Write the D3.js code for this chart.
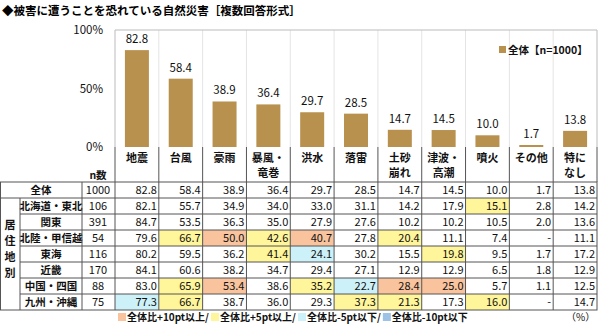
<!DOCTYPE html>
<html>
<head>
<meta charset="utf-8">
<script src="https://cdn.jsdelivr.net/npm/d3@7"></script>
<style>
  body { margin: 0; background: #fff; }
  svg { display: block; font-family: "Noto Sans CJK JP", sans-serif; }
</style>
</head>
<body>
<div id="container"></div>
<script>
// categories and overall values
const categories = ["地震", "台風", "豪雨", "暴風・竜巻", "洪水", "落雷", "土砂崩れ", "津波・高潮", "噴火", "その他", "特になし"];
const categoryLines = [["地震"], ["台風"], ["豪雨"], ["暴風・", "竜巻"], ["洪水"], ["落雷"], ["土砂", "崩れ"], ["津波・", "高潮"], ["噴火"], ["その他"], ["特に", "なし"]];
const totalN = 1000;
const totalValues = [82.8, 58.4, 38.9, 36.4, 29.7, 28.5, 14.7, 14.5, 10.0, 1.7, 13.8];

// breakdown by region (null = "-")
const regions = ["北海道・東北", "関東", "北陸・甲信越", "東海", "近畿", "中国・四国", "九州・沖縄"];
const regionN = [106, 391, 54, 116, 170, 88, 75];
const regionValues = [
  [82.1, 55.7, 34.9, 34.0, 33.0, 31.1, 14.2, 17.9, 15.1, 2.8, 14.2],
  [84.7, 53.5, 36.3, 35.0, 27.9, 27.6, 10.2, 10.2, 10.5, 2.0, 13.6],
  [79.6, 66.7, 50.0, 42.6, 40.7, 27.8, 20.4, 11.1, 7.4, null, 11.1],
  [80.2, 59.5, 36.2, 41.4, 24.1, 30.2, 15.5, 19.8, 9.5, 1.7, 17.2],
  [84.1, 60.6, 38.2, 34.7, 29.4, 27.1, 12.9, 12.9, 6.5, 1.8, 12.9],
  [83.0, 65.9, 53.4, 38.6, 35.2, 22.7, 28.4, 25.0, 5.7, 1.1, 12.5],
  [77.3, 66.7, 38.7, 36.0, 29.3, 37.3, 21.3, 17.3, 16.0, null, 14.7]
];
const yTicks = [0, 50, 100];
const legendItems = ["全体比+10pt以上/", "全体比+5pt以上/", "全体比-5pt以下/", "全体比-10pt以下"];
const legendColors = ["#f8c39d", "#fff59a", "#cdf1f9", "#9cc3e5"];

const w = 600, h = 325;
const left = 115, right = 597;
const plotTop = 30, plotBottom = 147;
const tableTop = 182, rowH = 16;
const lineColor = "#555";
const barColor = "#b8914f";

const svg = d3.select("#container").append("svg")
  .attr("width", w)
  .attr("height", h);

const x = d3.scaleBand().domain(categories).range([left, right]).padding(0);
const y = d3.scaleLinear().domain([0, 100]).range([plotBottom, plotTop]);

// title
svg.append("text")
  .attr("x", 2).attr("y", 15)
  .attr("font-size", 11.5).attr("font-weight", "bold").attr("fill", "#000")
  .text("◆被害に遭うことを恐れている自然災害［複数回答形式］");

// plot frame and light separators
svg.append("g").selectAll("line")
  .data(categories.slice(1))
  .enter().append("line")
  .attr("x1", d => x(d)).attr("x2", d => x(d))
  .attr("y1", plotTop).attr("y2", plotBottom)
  .attr("stroke", "#e4e4e4");
svg.append("path")
  .attr("d", `M${left},${plotBottom}V${plotTop}H${right}V${plotBottom}`)
  .attr("fill", "none").attr("stroke", "#bbb");

// y axis
const yAxis = d3.axisLeft(y).tickValues(yTicks).tickSize(0).tickPadding(0).tickFormat(d => d + "%");
svg.append("g")
  .attr("transform", `translate(${left - 12},0)`)
  .call(yAxis)
  .call(g => g.select(".domain").remove())
  .call(g => g.selectAll("text").attr("font-size", 11.5).attr("fill", "#111").attr("font-family", "'Noto Sans CJK JP', sans-serif"));

// bars
const bw = 24;
svg.append("g").selectAll("rect")
  .data(totalValues)
  .enter().append("rect")
  .attr("x", (d, i) => x(categories[i]) + (x.bandwidth() - bw) / 2)
  .attr("y", d => y(d))
  .attr("width", bw)
  .attr("height", d => y(0) - y(d))
  .attr("fill", barColor);

svg.append("g").selectAll("text")
  .data(totalValues)
  .enter().append("text")
  .attr("x", (d, i) => x(categories[i]) + x.bandwidth() / 2)
  .attr("y", d => y(d) - 7)
  .attr("text-anchor", "middle")
  .attr("font-size", 11.5).attr("fill", "#111")
  .text(d => d.toFixed(1));

// chart legend
svg.append("rect").attr("x", 499).attr("y", 46).attr("width", 7).attr("height", 7).attr("fill", barColor);
svg.append("text").attr("x", 508).attr("y", 54)
  .attr("font-size", 10.5).attr("font-weight", "bold").attr("fill", "#111")
  .text("全体【n=1000】");

// category labels row
const cat = svg.append("g");
cat.selectAll("line")
  .data(categories.concat(["end"]))
  .enter().append("line")
  .attr("x1", (d, i) => i < categories.length ? x(d) : right)
  .attr("x2", (d, i) => i < categories.length ? x(d) : right)
  .attr("y1", plotBottom).attr("y2", tableTop)
  .attr("stroke", lineColor);
categoryLines.forEach((lines, i) => {
  const t = cat.append("text")
    .attr("x", x(categories[i]) + x.bandwidth() / 2)
    .attr("y", 162)
    .attr("text-anchor", "middle")
    .attr("font-size", 11).attr("font-weight", "bold").attr("fill", "#111");
  lines.forEach((s, j) => t.append("tspan").attr("x", x(categories[i]) + x.bandwidth() / 2).attr("dy", j ? 15 : 0).text(s));
});
svg.append("text").attr("x", 98).attr("y", 179).attr("text-anchor", "middle")
  .attr("font-size", 10.5).attr("font-weight", "bold").attr("fill", "#111").text("n数");

// table cells
const rows = [{ label: "全体", n: totalN, values: totalValues }]
  .concat(regions.map((r, i) => ({ label: r, n: regionN[i], values: regionValues[i] })));

function cellColor(v, t) {
  if (v == null) return null;
  const diff = Math.round((v - t) * 10) / 10;
  if (diff >= 10) return legendColors[0];
  if (diff >= 5) return legendColors[1];
  if (diff <= -10) return legendColors[3];
  if (diff <= -5) return legendColors[2];
  return null;
}

const table = svg.append("g");
rows.forEach((row, r) => {
  const ry = tableTop + r * rowH;
  row.values.forEach((v, c) => {
    const fill = r > 0 ? cellColor(v, totalValues[c]) : null;
    if (fill) {
      table.append("rect")
        .attr("x", x(categories[c])).attr("y", ry)
        .attr("width", x.bandwidth()).attr("height", rowH)
        .attr("fill", fill);
    }
    table.append("text")
      .attr("x", x(categories[c]) + x.bandwidth() - 2)
      .attr("y", ry + 12)
      .attr("text-anchor", "end")
      .attr("font-size", 11).attr("fill", "#111")
      .text(v == null ? "-" : v.toFixed(1));
  });
  table.append("text")
    .attr("x", 98).attr("y", ry + 12).attr("text-anchor", "middle")
    .attr("font-size", 11).attr("fill", "#111").text(row.n);
  table.append("text")
    .attr("x", r === 0 ? 41 : 51).attr("y", ry + 12).attr("text-anchor", "middle")
    .attr("font-size", 10.5).attr("font-weight", "bold").attr("fill", "#111").text(row.label);
});

// table grid
const tableBottom = tableTop + rows.length * rowH;
const grid = table.append("g").attr("stroke", lineColor).attr("fill", "none");
grid.append("rect").attr("x", 0.5).attr("y", tableTop).attr("width", right - 0.5).attr("height", tableBottom - tableTop);
rows.forEach((row, r) => {
  if (r === 0) return;
  const ry = tableTop + r * rowH;
  grid.append("line").attr("x1", r === 1 ? 0 : 20).attr("x2", right).attr("y1", ry).attr("y2", ry);
});
grid.append("line").attr("x1", 20).attr("x2", 20).attr("y1", tableTop + rowH).attr("y2", tableBottom);
[82, left].concat(categories.slice(1).map(d => x(d))).forEach(vx => {
  grid.append("line").attr("x1", vx).attr("x2", vx).attr("y1", tableTop).attr("y2", tableBottom);
});

// vertical group label
"居住地別".split("").forEach((ch, i) => {
  table.append("text")
    .attr("x", 10).attr("y", 229 + i * 16)
    .attr("text-anchor", "middle")
    .attr("font-size", 11).attr("font-weight", "bold").attr("fill", "#111")
    .text(ch);
});

// highlight legend
const lg = svg.append("g").attr("transform", `translate(118,${tableBottom + 10})`);
let lx = 0;
legendItems.forEach((s, i) => {
  lg.append("rect").attr("x", lx).attr("y", -7).attr("width", 8).attr("height", 8).attr("fill", legendColors[i]);
  const t = lg.append("text").attr("x", lx + 9).attr("y", 1)
    .attr("font-size", 10).attr("font-weight", "bold").attr("fill", "#111").text(s);
  lx += 9 + t.node().getComputedTextLength() + 2;
});
svg.append("text").attr("x", 566).attr("y", tableBottom + 11)
  .attr("font-size", 10).attr("fill", "#111").text("（%）");
</script>
</body>
</html>
